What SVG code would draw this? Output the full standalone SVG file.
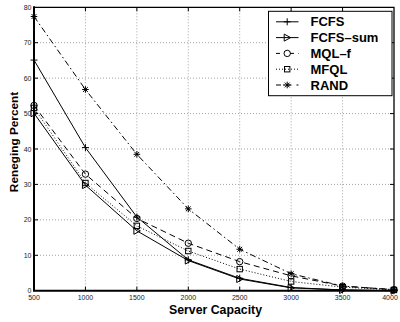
<svg xmlns="http://www.w3.org/2000/svg" xmlns:xlink="http://www.w3.org/1999/xlink" width="400" height="322" viewBox="0 0 400 322">
<style>
.grid{stroke:#8a8a8a;stroke-width:0.8;stroke-dasharray:1,2;fill:none}
.tick{stroke:#000;stroke-width:1}
.tl{font-family:"Liberation Sans",Arial,sans-serif;font-size:7px;fill:#222}
.ttl{font-family:"Liberation Sans",Arial,sans-serif;font-size:12.3px;font-weight:bold;fill:#000}
.lg{font-family:"Liberation Sans",Arial,sans-serif;font-size:13px;font-weight:bold;fill:#000}
.s{fill:none;stroke:#000;stroke-width:1}
.dash{stroke-dasharray:6,4}
.dot{stroke-dasharray:1,2}
.dd{stroke-dasharray:6,3,1.5,3}
.m{fill:none;stroke:#000;stroke-width:1}
</style>
<defs>
<g id="mPlus"><path class="m" d="M-3.5,0H3.5M0,-3.5V3.5"/></g>
<g id="mTri"><path class="m" d="M-3,-3.5L3.5,0L-3,3.5Z"/></g>
<g id="mCirc"><circle class="m" r="3.2"/></g>
<g id="mSq"><rect class="m" x="-2.7" y="-2.7" width="5.4" height="5.4"/></g>
<g id="mStar"><path class="m" d="M-3.3,0H3.3M0,-3.3V3.3M-2.4,-2.4L2.4,2.4M-2.4,2.4L2.4,-2.4"/></g>
</defs>
<rect width="400" height="322" fill="#fff"/>
<g id="grid">
<path class="grid" d="M85.43,7.3V290.7M136.86,7.3V290.7M188.29,7.3V290.7M239.71,7.3V290.7M291.14,7.3V290.7M342.57,7.3V290.7"/>
<path class="grid" d="M34,255.3H394M34,219.85H394M34,184.4H394M34,148.99H394M34,113.6H394M34,78.15H394M34,42.7H394"/>
</g>
<g id="ticks">
<path class="tick" d="M85.43,290.7v-4M136.86,290.7v-4M188.29,290.7v-4M239.71,290.7v-4M291.14,290.7v-4M342.57,290.7v-4M85.43,7.3v4M136.86,7.3v4M188.29,7.3v4M239.71,7.3v4M291.14,7.3v4M342.57,7.3v4"/>
<path class="tick" d="M34,255.3h4M34,219.85h4M34,184.4h4M34,148.99h4M34,113.6h4M34,78.15h4M34,42.7h4M394,255.3h-4M394,219.85h-4M394,184.4h-4M394,148.99h-4M394,113.6h-4M394,78.15h-4M394,42.7h-4"/>
</g>
<g id="axes">
<path d="M34,7.3H394V290.7" fill="none" stroke="#000" stroke-width="1.3"/>
<path d="M34,6.3V290.7H395" fill="none" stroke="#000" stroke-width="2"/>
</g>
<g id="ylabels" class="tl" text-anchor="end">
<text x="31.5" y="293.2">0</text>
<text x="31.5" y="257.8">10</text>
<text x="31.5" y="222.3">20</text>
<text x="31.5" y="186.9">30</text>
<text x="31.5" y="151.5">40</text>
<text x="31.5" y="116.1">50</text>
<text x="31.5" y="80.6">60</text>
<text x="31.5" y="45.2">70</text>
<text x="31.5" y="9.8">80</text>
</g>
<g id="xlabels" class="tl" text-anchor="middle">
<text x="34" y="300">500</text>
<text x="85.43" y="300">1000</text>
<text x="136.86" y="300">1500</text>
<text x="188.29" y="300">2000</text>
<text x="239.71" y="300">2500</text>
<text x="291.14" y="300">3000</text>
<text x="342.57" y="300">3500</text>
<text x="390" y="300">4000</text>
</g>
<text class="ttl" x="215.5" y="314" text-anchor="middle">Server Capacity</text>
<text class="ttl" transform="translate(18,142) rotate(-90)" text-anchor="middle" style="font-size:11.8px">Reneging Percent</text>
<g id="series-RAND">
<polyline class="s dd" points="34,16.51 85.43,89.49 136.86,154.31 188.29,208.87 239.71,249.25 291.14,273.7 342.57,286.09 394,289.64"/>
<use xlink:href="#mStar" x="34" y="16.51"/><use xlink:href="#mStar" x="85.43" y="89.49"/><use xlink:href="#mStar" x="136.86" y="154.31"/><use xlink:href="#mStar" x="188.29" y="208.87"/><use xlink:href="#mStar" x="239.71" y="249.25"/><use xlink:href="#mStar" x="291.14" y="273.7"/><use xlink:href="#mStar" x="342.57" y="286.09"/><use xlink:href="#mStar" x="394" y="289.64"/>
</g>
<g id="series-MQL-f">
<polyline class="s dash" points="34,105.43 85.43,174.15 136.86,218.43 188.29,243.23 239.71,261.65 291.14,275.82 342.57,286.09 394,289.64"/>
<use xlink:href="#mCirc" x="34" y="105.43"/><use xlink:href="#mCirc" x="85.43" y="174.15"/><use xlink:href="#mCirc" x="136.86" y="218.43"/><use xlink:href="#mCirc" x="188.29" y="243.23"/><use xlink:href="#mCirc" x="239.71" y="261.65"/><use xlink:href="#mCirc" x="291.14" y="275.82"/><use xlink:href="#mCirc" x="342.57" y="286.09"/><use xlink:href="#mCirc" x="394" y="289.64"/>
</g>
<g id="series-MFQL">
<polyline class="s dot" points="34,107.91 85.43,183.01 136.86,225.87 188.29,251.02 239.71,269.09 291.14,281.49 342.57,287.16 394,289.99"/>
<use xlink:href="#mSq" x="34" y="107.91"/><use xlink:href="#mSq" x="85.43" y="183.01"/><use xlink:href="#mSq" x="136.86" y="225.87"/><use xlink:href="#mSq" x="188.29" y="251.02"/><use xlink:href="#mSq" x="239.71" y="269.09"/><use xlink:href="#mSq" x="291.14" y="281.49"/><use xlink:href="#mSq" x="342.57" y="287.16"/><use xlink:href="#mSq" x="394" y="289.99"/>
</g>
<g id="series-FCFS">
<polyline class="s" points="34,60.08 85.43,147.58 136.86,217.02 188.29,259.88 239.71,278.3 291.14,287.51 342.57,289.99 394,290.7"/>
<use xlink:href="#mPlus" x="34" y="60.08"/><use xlink:href="#mPlus" x="85.43" y="147.58"/><use xlink:href="#mPlus" x="136.86" y="217.02"/><use xlink:href="#mPlus" x="188.29" y="259.88"/><use xlink:href="#mPlus" x="239.71" y="278.3"/><use xlink:href="#mPlus" x="291.14" y="287.51"/><use xlink:href="#mPlus" x="342.57" y="289.99"/><use xlink:href="#mPlus" x="394" y="290.7"/>
</g>
<g id="series-FCFS-sum">
<polyline class="s" points="34,113.22 85.43,185.13 136.86,230.83 188.29,260.59 239.71,279.01 291.14,287.87 342.57,289.99 394,290.7"/>
<use xlink:href="#mTri" x="34" y="113.22"/><use xlink:href="#mTri" x="85.43" y="185.13"/><use xlink:href="#mTri" x="136.86" y="230.83"/><use xlink:href="#mTri" x="188.29" y="260.59"/><use xlink:href="#mTri" x="239.71" y="279.01"/><use xlink:href="#mTri" x="291.14" y="287.87"/><use xlink:href="#mTri" x="342.57" y="289.99"/><use xlink:href="#mTri" x="394" y="290.7"/>
</g>
<g id="legend">
<rect x="268.5" y="11.3" width="123.5" height="84.4" fill="#fff" stroke="#000" stroke-width="1"/>
<line class="s" x1="276" y1="21.8" x2="298.5" y2="21.8"/><use xlink:href="#mPlus" x="287.2" y="21.8"/>
<line class="s" x1="276" y1="37.6" x2="298.5" y2="37.6"/><use xlink:href="#mTri" x="287.2" y="37.6"/>
<line class="s" x1="276" y1="53.4" x2="298.5" y2="53.4" stroke-dasharray="4,5,0,5,4"/><use xlink:href="#mCirc" x="287.2" y="53.4"/>
<line class="s dot" x1="276" y1="69.2" x2="298.5" y2="69.2"/><use xlink:href="#mSq" x="287.2" y="69.2"/>
<line class="s" x1="276" y1="85" x2="298.5" y2="85" stroke-dasharray="5,2,1.5,2,5"/><use xlink:href="#mStar" x="287.2" y="85"/>
<text class="lg" x="310.5" y="26.4">FCFS</text>
<text class="lg" x="310.5" y="42.2">FCFS–sum</text>
<text class="lg" x="310.5" y="58">MQL–f</text>
<text class="lg" x="310.5" y="73.8">MFQL</text>
<text class="lg" x="310.5" y="89.6">RAND</text>
</g>
</svg>
